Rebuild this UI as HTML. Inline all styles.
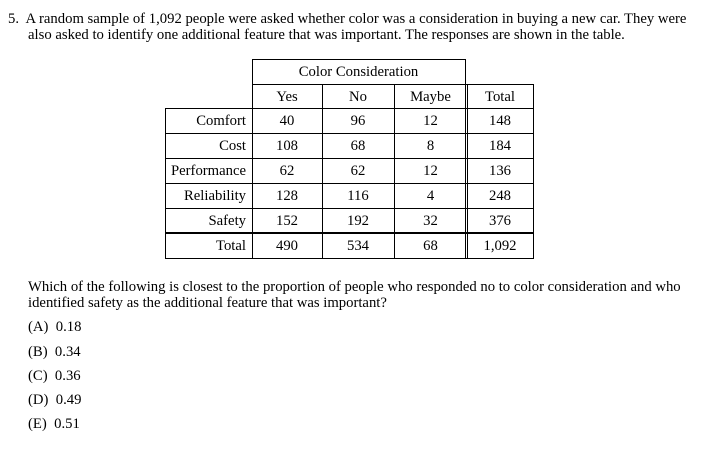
<!DOCTYPE html>
<html><head><meta charset="utf-8"><style>
body{margin:0;width:714px;height:451px;background:#fff;font-family:"Liberation Serif",serif;font-size:14.7px;color:#000;position:relative;overflow:hidden}
.t{position:absolute;white-space:nowrap;line-height:16px}
.c{position:absolute;height:25px;line-height:26px;text-align:center;box-sizing:border-box}
.l{position:absolute;background:#000}
</style></head><body>
<div class="t" style="left:8px;top:11px">5.&nbsp; A random sample of 1,092 people were asked whether color was a consideration in buying a new car. They were</div>
<div class="t" style="left:28px;top:27px">also asked to identify one additional feature that was important. The responses are shown in the table.</div>

<div id="tbl"></div>

<div class="t" style="left:28px;top:279px">Which of the following is closest to the proportion of people who responded no to color consideration and who</div>
<div class="t" style="left:28px;top:295px">identified safety as the additional feature that was important?</div>
<div class="t" style="left:28px;top:319px">(A)&nbsp; 0.18</div>
<div class="t" style="left:28px;top:344px">(B)&nbsp; 0.34</div>
<div class="t" style="left:28px;top:368px">(C)&nbsp; 0.36</div>
<div class="t" style="left:28px;top:392px">(D)&nbsp; 0.49</div>
<div class="t" style="left:28px;top:416px">(E)&nbsp; 0.51</div>

<script>
const rows=["Comfort","Cost","Performance","Reliability","Safety","Total"];
const cols=["Yes","No","Maybe","Total"];
const yesVals=["40","108","62","128","152","490"];
const noVals=["96","68","62","116","192","534"];
const maybeVals=["12","8","12","4","32","68"];
const totalVals=["148","184","136","248","376","1,092"];
const tbl=document.getElementById('tbl');
const colX=[252,322,394,467,533];
const leftX=165, top0=59, hdr2=84, body0=108, rh=25;
function cell(x,y,w,txt,align,name){
  const d=document.createElement('div');
  d.className='c';
  
  
  d.style.left=x+'px';d.style.top=y+'px';d.style.width=w+'px';
  if(align==='right'){d.style.textAlign='right';d.style.paddingRight='6px';}
  d.textContent=txt;tbl.appendChild(d);
}
function line(x,y,w,h){
  const d=document.createElement('div');
  d.className='l';
  
  
  d.style.left=x+'px';d.style.top=y+'px';d.style.width=w+'px';d.style.height=h+'px';
  tbl.appendChild(d);
}
cell(252,top0,213,"Color Consideration",'center','color-consideration-header');
cols.forEach((c,i)=>{cell(colX[i],hdr2,colX[i+1]-colX[i],c,'center','column-header-'+c.toLowerCase());});
const series=[yesVals,noVals,maybeVals,totalVals];
const bottom=body0+rh*rows.length;
rows.forEach((r,j)=>{
  const y=body0+j*rh;
  cell(leftX,y,colX[0]-leftX,r,'right','row-label-'+r.toLowerCase());
  series.forEach((s,i)=>cell(colX[i],y,colX[i+1]-colX[i],s[j],'center','cell-'+r.toLowerCase()+'-'+cols[i].toLowerCase()));
});
line(252,top0,214,1);
line(252,hdr2,colX[4]-252+1,1);
for(let j=0;j<rows.length;j++){
  const y=body0+j*rh;
  if(j===rows.length-1){line(leftX,y-1,colX[4]-leftX+1,2);}
  else line(leftX,y,colX[4]-leftX+1,1);
}
line(leftX,bottom,colX[4]-leftX+1,1);
line(leftX,body0,1,bottom-body0+1);
line(252,top0,1,bottom-top0+1);
[322,394].forEach(x=>line(x,hdr2,1,bottom-hdr2+1));
line(465,top0,1,bottom-top0+1);
line(467,hdr2,1,bottom-hdr2+1);
line(533,hdr2,1,bottom-hdr2+1);
</script>
</body></html>
